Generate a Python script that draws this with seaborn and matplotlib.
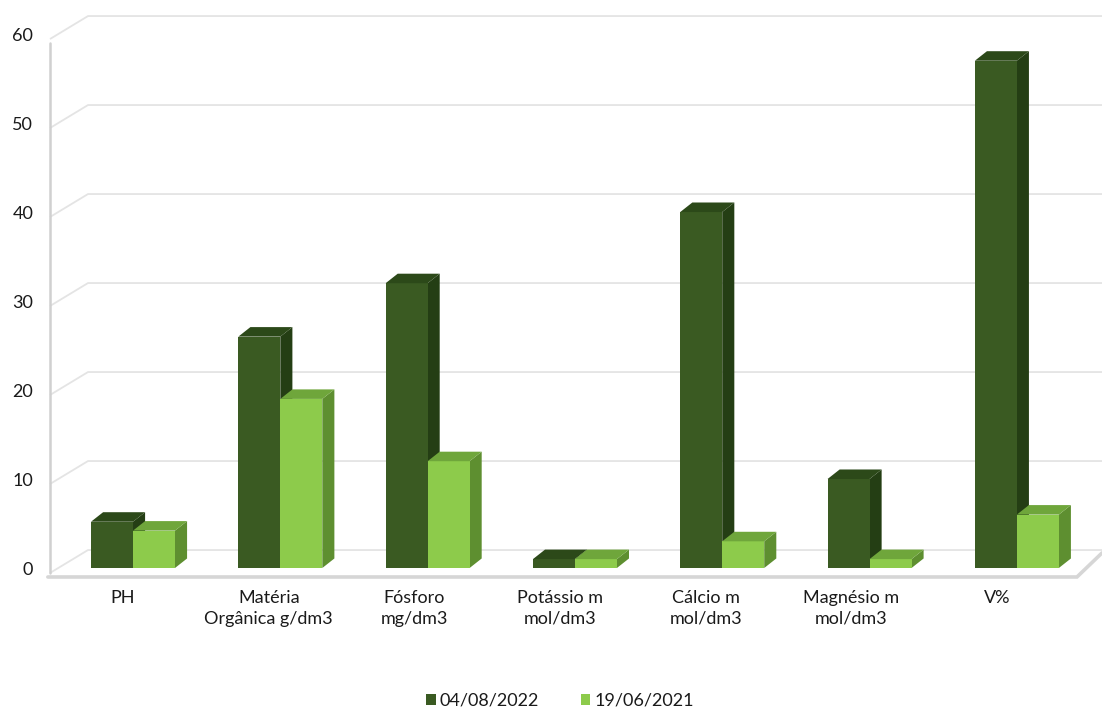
import matplotlib
matplotlib.use("Agg")
import matplotlib.pyplot as plt
import matplotlib.transforms as mtransforms
from matplotlib.patches import Polygon, Patch
import seaborn as sns
import pandas as pd

# ---- data ----
categories = ["PH", "Matéria\nOrgânica g/dm3", "Fósforo\nmg/dm3", "Potássio m\nmol/dm3",
              "Cálcio m\nmol/dm3", "Magnésio m\nmol/dm3", "V%"]
series_names = ["04/08/2022", "19/06/2021"]
values_2022 = [5.2, 26, 32, 1, 40, 10, 57]
values_2021 = [4.2, 19, 12, 1, 3, 1, 6]
y_ticks = [0, 10, 20, 30, 40, 50, 60]

front_colors = ["#3A5A22", "#8DCB4B"]
side_colors = ["#243E14", "#5E8F30"]
top_colors = ["#2C4919", "#6FA63B"]

df = pd.DataFrame({
    "cat": categories * 2,
    "serie": [series_names[0]] * len(categories) + [series_names[1]] * len(categories),
    "val": values_2022 + values_2021,
})

sns.set_theme(style="white")
plt.rcParams["font.family"] = ["Lato", "DejaVu Sans"]

W, H = 1102, 708
fig = plt.figure(figsize=(W / 100, H / 100), dpi=100)
ax = fig.add_axes([50 / W, (H - 580) / H, (W - 50) / W, 570 / H])

sns.barplot(data=df, x="cat", y="val", hue="serie", order=categories,
            hue_order=series_names, palette=front_colors, width=0.57,
            saturation=1, legend=False, ax=ax, edgecolor="none", linewidth=0)

ax.set_xlim(-0.5635, 6.578)
ax.set_ylim(-1.348, 62.70)

# 3D depth of bars (in data units)
ddx, ddy = 0.082, 1.07
n = len(categories)
for k, p in enumerate(ax.patches):
    s = k // n
    x0 = p.get_x()
    w = p.get_width()
    h = p.get_height()
    x1 = x0 + w
    p.set_zorder(3 + 2 * s)
    side = Polygon([(x1, 0), (x1 + ddx, ddy), (x1 + ddx, h + ddy), (x1, h)],
                   closed=True, facecolor=side_colors[s], edgecolor="none", zorder=2 + 2 * s)
    top = Polygon([(x0, h), (x0 + ddx, h + ddy), (x1 + ddx, h + ddy), (x1, h)],
                  closed=True, facecolor=top_colors[s], edgecolor="none", zorder=3 + 2 * s)
    ax.add_patch(side)
    ax.add_patch(top)

# walls / gridlines (3D look)
xl, xr = ax.get_xlim()
xback = -0.3055
grid_c = "#E4E4E4"
for v in y_ticks:
    ax.plot([xl, xback, xr], [v - 0.56, v + 2.02, v + 2.02], color=grid_c, lw=1.3,
            zorder=1, clip_on=False, solid_capstyle="butt")
# left wall front edge
ax.plot([xl, xl], [-0.56, 59.0], color="#D0D0D0", lw=1.8, zorder=1, clip_on=False)
# floor front edge
ax.plot([-0.578, 6.408, 6.578], [-1.01, -1.01, 1.69], color="#D6D6D6", lw=2.6,
        zorder=1, clip_on=False, solid_joinstyle="miter")

for sp in ax.spines.values():
    sp.set_visible(False)
ax.grid(False)
ax.set_xlabel("")
ax.set_ylabel("")

ax.set_yticks(y_ticks)
ax.set_yticklabels([str(v) for v in y_ticks])
ax.tick_params(axis="y", length=0, pad=12, labelsize=13, labelcolor="#1a1a1a")
ax.tick_params(axis="x", length=0, pad=7, labelsize=13, labelcolor="#1a1a1a")
ax.set_xticks(range(n))
ax.set_xticklabels(categories, linespacing=1.4)
for i, lab in enumerate(ax.get_xticklabels()):
    off = mtransforms.ScaledTranslation(-(10 + 1.6 * i) / 100, 0, fig.dpi_scale_trans)
    lab.set_transform(lab.get_transform() + off)

handles = [Patch(facecolor=front_colors[0], edgecolor="none"),
           Patch(facecolor=front_colors[1], edgecolor="none")]
fig.legend(handles, series_names, loc="lower center", bbox_to_anchor=(0.508, -0.024),
           ncol=2, frameon=False, fontsize=13, handlelength=0.55, handleheight=0.55,
           handletextpad=0.2, columnspacing=2.3, labelcolor="#1a1a1a")

fig.savefig("out.png", dpi=100)
